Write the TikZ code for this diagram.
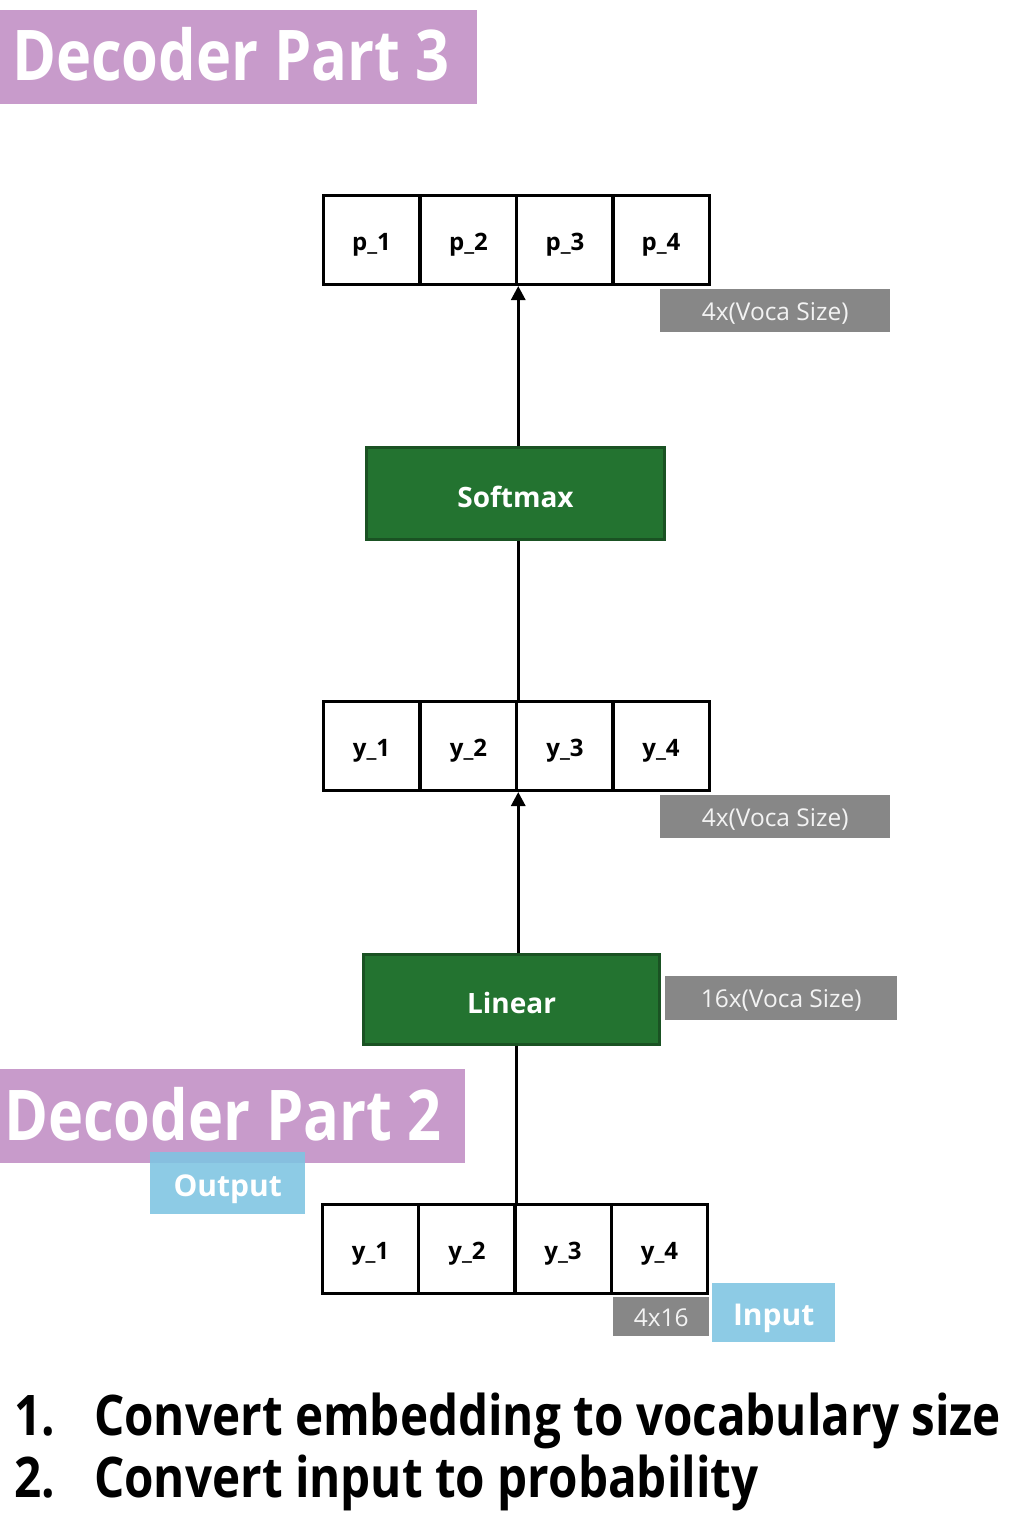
\documentclass[tikz,border=0pt]{standalone}
\usepackage{fontspec}
\setmainfont{Open Sans}
\usetikzlibrary{arrows.meta}
\definecolor{purp}{HTML}{C89BCB}
\definecolor{grn}{HTML}{237330}
\definecolor{grnd}{HTML}{1A5223}
\definecolor{gry}{HTML}{878787}
\definecolor{blu}{HTML}{7EC4E2}
\tikzset{
  cell/.style={draw=black,line width=3pt,minimum width=96.5pt,minimum height=89pt,inner sep=0pt,text height=20pt,text depth=0pt,font=\fontsize{24}{28}\selectfont\bfseries},
  greenbox/.style={fill=grn,draw=grnd,line width=2.5pt,text=white,inner sep=0pt,text height=27pt,text depth=0pt,font=\fontsize{28}{32}\selectfont\bfseries},
  greylab/.style={fill=gry,text=white!90!gry,inner sep=0pt,text height=19pt,text depth=0pt,font=\fontsize{24.5}{28}\selectfont},
  title/.style={fill=purp,inner sep=0pt},
  titletxt/.style={text=white,font=\fontsize{70}{80}\selectfont\bfseries,anchor=base west,inner sep=0pt},
  bluelab/.style={fill=blu,fill opacity=0.88,text opacity=1,text=white,inner sep=0pt,text height=26pt,text depth=0pt,font=\fontsize{30}{34}\selectfont\bfseries},
  conn/.style={line width=3pt},
  arr/.style={line width=3pt,-{Triangle[length=14pt,width=14pt]}},
  bigtxt/.style={inner sep=0pt,anchor=base west,font=\fontsize{56}{64}\selectfont\bfseries}
}
\begin{document}
\begin{tikzpicture}[x=1pt,y=-1pt]
\useasboundingbox[fill=white] (0,0) rectangle (1024,1536);
% titles
\node[title,minimum width=477pt,minimum height=94pt,anchor=north west] (t3) at (0,10) {};
\node[titletxt] (t3t) at (12,81) {\scalebox{0.85}[1]{Decoder Part 3}};
\node[title,minimum width=465pt,minimum height=94pt,anchor=north west] (t2) at (0,1069) {};
\node[titletxt] (t2t) at (4,1140) {\scalebox{0.85}[1]{Decoder Part 2}};
% top row p
\node[cell] (p1) at (371.5,240) {p\_1};
\node[cell] (p2) at (468.5,240) {p\_2};
\node[cell] (p3) at (565,240) {p\_3};
\node[cell] (p4) at (661,240) {p\_4};
\node[greylab,minimum width=230pt,minimum height=43pt,anchor=north west] (g1) at (660,289) {4x(Voca Size)};
% softmax
\node[greenbox,minimum width=298pt,minimum height=92pt] (sm) at (515.5,493.5) {Softmax};
% middle y row
\node[cell] (y1) at (371.5,746) {y\_1};
\node[cell] (y2) at (468.5,746) {y\_2};
\node[cell] (y3) at (565,746) {y\_3};
\node[cell] (y4) at (661,746) {y\_4};
\node[greylab,minimum width=230pt,minimum height=43pt,anchor=north west] (g2) at (660,795) {4x(Voca Size)};
% linear
\node[greenbox,minimum width=296pt,minimum height=90pt] (lin) at (511.5,999.5) {Linear};
\node[greylab,minimum width=232pt,minimum height=44pt,anchor=north west] (g3) at (665,976) {16x(Voca Size)};
% bottom y row
\node[cell] (b1) at (370.5,1249) {y\_1};
\node[cell] (b2) at (467,1249) {y\_2};
\node[cell] (b3) at (563,1249) {y\_3};
\node[cell] (b4) at (659.5,1249) {y\_4};
\node[greylab,minimum width=96pt,minimum height=39pt,anchor=north west] (g4) at (613,1297) {4x16};
\node[bluelab,minimum width=123pt,minimum height=59pt,anchor=north west] (inp) at (712,1283) {Input};
\node[bluelab,minimum width=155pt,minimum height=62pt,anchor=north west] (outp) at (150,1152) {Output};
% connectors
\draw[arr] (sm.north -| p2.south east) -- (p2.south east);
\draw[conn] (sm.south -| y2.north east) -- (y2.north east);
\draw[arr] (lin.north -| y2.south east) -- (y2.south east);
\draw[conn] (lin.south -| b2.north east) -- (b2.north east);
% text
\node[bigtxt] (l1) at (14,1435) {\scalebox{0.85}[1]{1.}};
\node[bigtxt] (l1b) at (94,1435) {\scalebox{0.85}[1]{Convert embedding to vocabulary size}};
\node[bigtxt] (l2) at (14,1497) {\scalebox{0.85}[1]{2.}};
\node[bigtxt] (l2b) at (94,1497) {\scalebox{0.85}[1]{Convert input to probability}};
\end{tikzpicture}
\end{document}
